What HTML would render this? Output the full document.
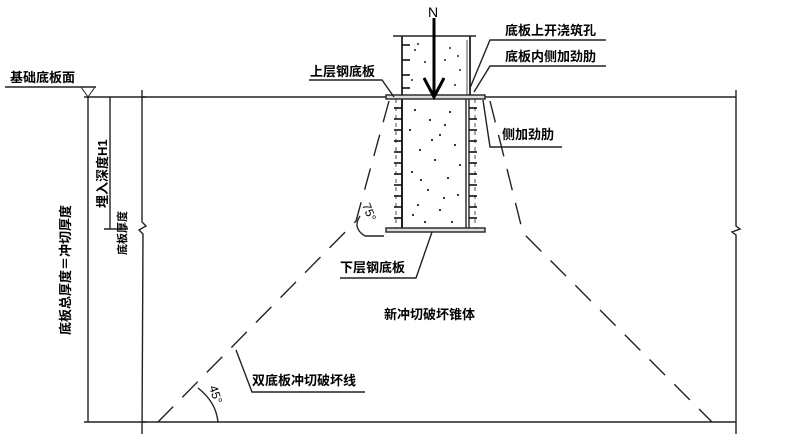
<!DOCTYPE html>
<html><head><meta charset="utf-8"><style>
html,body{margin:0;padding:0;background:#fff;}
svg{display:block;}
text{font-family:"Liberation Sans","Noto Sans CJK SC",sans-serif;fill:#000;font-weight:bold;}
</style></head><body>
<svg width="800" height="446" viewBox="0 0 800 446" xmlns="http://www.w3.org/2000/svg">
<g stroke="#222" stroke-width="1.4" fill="none">
<line x1="142" y1="97" x2="736" y2="97"/>
<line x1="142" y1="422" x2="736" y2="422"/>
<polyline points="142,90 142,222 146,226 139,230 143,234 142,434"/>
<polyline points="736,90 736,226 740,229 732,232 736,235 736,434"/>
<line x1="88" y1="97" x2="88" y2="422"/>
<line x1="84" y1="97" x2="146" y2="97"/>
<line x1="84" y1="422" x2="146" y2="422"/>
<line x1="110" y1="97" x2="110" y2="229"/>
<line x1="104" y1="229" x2="128" y2="229"/>
<line x1="5" y1="87" x2="96" y2="87"/>
<polygon points="81,87 95,87 88,97" stroke-width="1"/>
<polyline points="389,101 356,221 158,422" stroke-dasharray="22,13"/>
<polyline points="490,101 523,233 712,422" stroke-dasharray="22,13"/>
<line x1="393" y1="36" x2="476" y2="36"/>
<line x1="402" y1="36" x2="402" y2="97" stroke-width="1.8"/>
<line x1="470" y1="36" x2="470" y2="97" stroke-width="1.8"/>
<line x1="467" y1="40" x2="467" y2="97" stroke-width="0.8"/>
<rect x="386" y="95" width="99" height="4" fill="#ddd"/>
<rect x="386" y="228" width="99" height="4" fill="#ddd"/>
<line x1="402" y1="99" x2="402" y2="228" stroke-width="2"/>
<line x1="466" y1="99" x2="466" y2="228"/>
<line x1="469" y1="99" x2="469" y2="228"/>
<line x1="396" y1="99" x2="396" y2="228" stroke-width="0.8" stroke-dasharray="4,4"/>
<line x1="475" y1="99" x2="475" y2="228" stroke-width="0.8" stroke-dasharray="4,4"/>
<polyline points="606,40 490,40 470,88"/>
<polyline points="606,66 490,66 474,92"/>
<polyline points="309,80 382,80 394,97"/>
<polyline points="562,147 490,147 483,100"/>
<polyline points="340,278 416,278 432,232"/>
<polyline points="365,392 252,392 236,350"/>
<path d="M360,216 Q352,228 365,236" />
<line x1="365" y1="236" x2="384" y2="236"/>
<path d="M198,388 Q216,402 218,422"/>
</g>
<g stroke="#111" stroke-width="1.6">
<line x1="394" y1="108" x2="402" y2="108"/><line x1="394" y1="119" x2="402" y2="119"/><line x1="394" y1="130" x2="402" y2="130"/><line x1="394" y1="141" x2="402" y2="141"/><line x1="394" y1="152" x2="402" y2="152"/><line x1="394" y1="163" x2="402" y2="163"/><line x1="394" y1="174" x2="402" y2="174"/><line x1="394" y1="185" x2="402" y2="185"/><line x1="394" y1="196" x2="402" y2="196"/><line x1="394" y1="207" x2="402" y2="207"/><line x1="394" y1="218" x2="402" y2="218"/>
<line x1="469" y1="108" x2="477" y2="108"/><line x1="469" y1="119" x2="477" y2="119"/><line x1="469" y1="130" x2="477" y2="130"/><line x1="469" y1="141" x2="477" y2="141"/><line x1="469" y1="152" x2="477" y2="152"/><line x1="469" y1="163" x2="477" y2="163"/><line x1="469" y1="174" x2="477" y2="174"/><line x1="469" y1="185" x2="477" y2="185"/><line x1="469" y1="196" x2="477" y2="196"/><line x1="469" y1="207" x2="477" y2="207"/><line x1="469" y1="218" x2="477" y2="218"/>
<line x1="402" y1="45" x2="410" y2="45"/><line x1="402" y1="60" x2="410" y2="60"/><line x1="402" y1="75" x2="410" y2="75"/><line x1="402" y1="88" x2="410" y2="88"/>
</g>
<g fill="#222">
<circle cx="415" cy="50" r="1"/><circle cx="425" cy="62" r="1"/><circle cx="450" cy="48" r="1"/><circle cx="460" cy="70" r="1"/><circle cx="412" cy="80" r="1"/><circle cx="455" cy="85" r="1"/><circle cx="445" cy="60" r="1"/><circle cx="418" cy="44" r="1"/><circle cx="458" cy="56" r="1"/>
<circle cx="415" cy="110" r="1.1"/><circle cx="430" cy="120" r="1.1"/><circle cx="450" cy="112" r="1.1"/><circle cx="440" cy="135" r="1.1"/><circle cx="420" cy="150" r="1.1"/><circle cx="455" cy="145" r="1.1"/><circle cx="435" cy="160" r="1.1"/><circle cx="412" cy="172" r="1.1"/><circle cx="448" cy="178" r="1.1"/><circle cx="428" cy="190" r="1.1"/><circle cx="458" cy="195" r="1.1"/><circle cx="418" cy="205" r="1.1"/><circle cx="440" cy="210" r="1.1"/><circle cx="452" cy="222" r="1.1"/><circle cx="425" cy="222" r="1.1"/><circle cx="445" cy="125" r="1.1"/><circle cx="460" cy="165" r="1.1"/><circle cx="410" cy="130" r="1.1"/><circle cx="432" cy="140" r="1.1"/><circle cx="421" cy="180" r="1.1"/><circle cx="444" cy="198" r="1.1"/><circle cx="413" cy="215" r="1.1"/>
</g>
<line x1="434" y1="18" x2="434" y2="94" stroke="#000" stroke-width="3"/>
<polyline points="424,78 434,97 444,78" fill="none" stroke="#000" stroke-width="3"/>
<text x="428" y="17" font-size="14" style="font-weight:normal">N</text>
<g font-size="13">
<text x="505" y="35">底板上开浇筑孔</text>
<text x="505" y="61">底板内侧加劲肋</text>
<text x="310" y="76">上层钢底板</text>
<text x="502" y="139">侧加劲肋</text>
<text x="340" y="272">下层钢底板</text>
<text x="384" y="319">新冲切破坏锥体</text>
<text x="252" y="385">双底板冲切破坏线</text>
<text x="10" y="82">基础底板面</text>
<text transform="translate(70,335) rotate(-90)">底板总厚度＝冲切厚度</text>
<text transform="translate(107,208) rotate(-90)">埋入深度H1</text>
<text transform="translate(126,255) rotate(-90)" font-size="11">底板厚度</text>
<text transform="translate(362,205) rotate(68)" font-size="12" style="font-weight:normal">75°</text>
<text transform="translate(209,387) rotate(72)" font-size="12" style="font-weight:normal">45°</text>
</g>
</svg>
</body></html>
